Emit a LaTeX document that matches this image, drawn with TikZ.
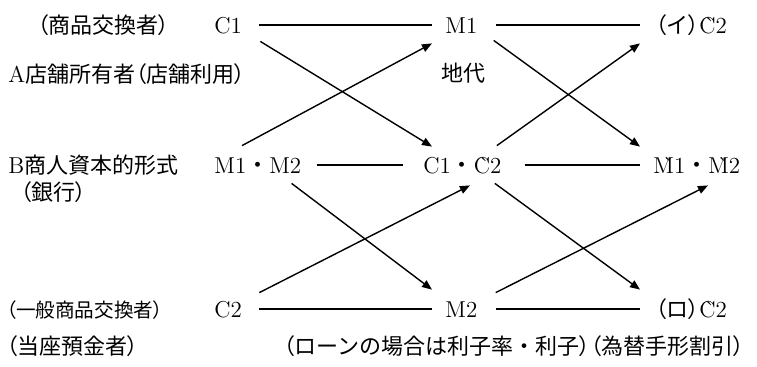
\documentclass[tikz,border=0pt]{standalone}
\usepackage{fontspec}
\newfontfamily\cjk{Noto Sans CJK JP}
\newfontfamily\cjkp[RawFeature=+palt]{Noto Sans CJK JP}
\usetikzlibrary{arrows.meta,calc}
\newcommand\jlp{{\cjkp （}}
\newcommand\jrp{{\cjkp ）}}
\newcommand\jdot{{\cjk ・}}
\newcommand\J[1]{{\cjk\fontsize{11}{13}\selectfont #1}}
\newcommand\Js[1]{{\cjk\fontsize{9.8}{12}\selectfont #1}}
\newcommand\gC{\`{C}}
\newcommand\gM{\`{M}}
\begin{document}
\begin{tikzpicture}[x=0.5pt,y=-0.5pt,
  every node/.style={inner sep=0pt, anchor=base west, font=\fontsize{11.5}{14}\selectfont},
  term/.style={text height=8pt, text depth=0pt},
  link/.style={line width=0.7pt},
  arr/.style={line width=0.7pt, -{Triangle[length=5pt,width=4pt]}}]
\useasboundingbox (0,0) rectangle (757,366);
% labels
\node (l1) at (37,33) {\J{\jlp 商品交換者\jrp}};
\node (l2) at (8,82) {A\J{店舗所有者\jlp 店舗利用\jrp}};
\node (rent) at (441,81) {\J{地代}};
\node (l3) at (8,173) {B\J{商人資本的形式}};
\node (l4) at (20,200) {\J{\jlp 銀行\jrp}};
\node (l5) at (6,317) {\Js{\jlp 一般商品交換者\jrp}};
\node (l6) at (6,354) {\J{\jlp 当座預金者\jrp}};
\node (l7) at (283,354) {\J{\jlp ローンの場合は利子率・利子\jrp\jlp 為替手形割引\jrp}};
% terms
\node[term] (c1) at (214,33) {C1};
\node[term] (m1) at (445,33) {M1};
\node[term] (i2) at (655,33) {\J{\jlp イ\jrp}\gC2};
\node[term] (m12) at (214,173) {M1\jdot M2};
\node[term] (c12) at (423,173) {C1\jdot\gC2};
\node[term] (mm) at (653,173) {\gM1\jdot\gM2};
\node[term] (c2) at (214,317) {C2};
\node[term] (m2) at (445,317) {M2};
\node[term] (ro) at (655,317) {\J{\jlp ロ\jrp}\gC2};
% horizontal lines
\draw[link] ($(c1.east)+(17,0)$) -- ($(m1.west)+(-13,0)$);
\draw[link] ($(m1.east)+(18,0)$) -- ($(i2.west)+(-15,0)$);
\draw[link] ($(m12.east)+(15,0)$) -- ($(c12.west)+(-20,0)$);
\draw[link] ($(c12.east)+(23,0)$) -- ($(mm.west)+(-13,0)$);
\draw[link] ($(c2.east)+(17,0)$) -- ($(m2.west)+(-13,0)$);
\draw[link] ($(m2.east)+(18,0)$) -- ($(ro.west)+(-15,0)$);
% arrows
\draw[arr] ($(c1.south east)+(18,8)$) -- ($(c12.north west)+(9,-10)$);
\draw[arr] ($(m12.north west)+(28,-11)$) -- ($(m1.south west)+(-13,10)$);
\draw[arr] ($(m1.south east)+(16,7)$) -- ($(mm.north west)+(-13,-10)$);
\draw[arr] ($(c12.north east)+(-5,-11)$) -- ($(i2.south west)+(-15,10)$);
\draw[arr] ($(m12.south east)+(-10,10)$) -- ($(m2.north west)+(-13,-11)$);
\draw[arr] ($(c2.north east)+(17,-8)$) -- ($(c12.south west)+(47,12)$);
\draw[arr] ($(c12.south east)+(-7,10)$) -- ($(ro.north west)+(-15,-11)$);
\draw[arr] ($(m2.north east)+(18,-8)$) -- ($(mm.south west)+(55,12)$);
\end{tikzpicture}
\end{document}
